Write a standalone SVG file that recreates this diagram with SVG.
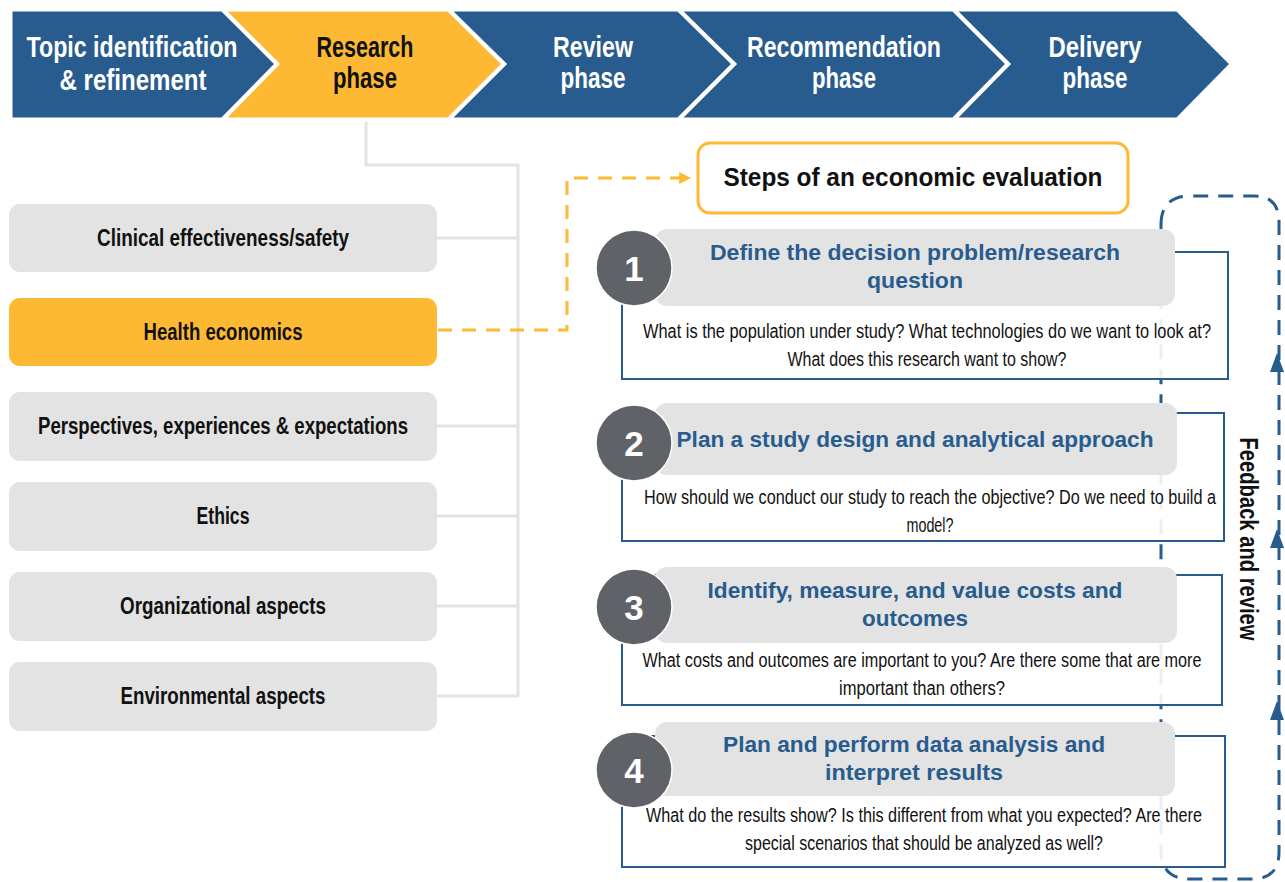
<svg xmlns="http://www.w3.org/2000/svg" width="1285" height="882" viewBox="0 0 1285 882">
  <style>
    .chev { fill: #285c8e; stroke: #ffffff; stroke-width: 3; }
    .chev-on { fill: #fdb933; stroke: #ffffff; stroke-width: 3; }
    .phase { font-family: "Liberation Sans", Arial, sans-serif; font-weight: bold; font-size: 30px; fill: #ffffff; }
    .phase-on { fill: #111111; }
    .topic { fill: #e3e3e3; }
    .topic-on { fill: #fdb933; }
    .topic-txt { font-family: "Liberation Sans", Arial, sans-serif; font-weight: bold; font-size: 23px; fill: #111111; }
    .tree { fill: none; stroke: #e3e3e3; stroke-width: 3; }
    .ylink { fill: none; stroke: #fdb933; stroke-width: 3; stroke-dasharray: 14 10; }
    .loop { fill: none; stroke: #285c8e; stroke-width: 3; stroke-dasharray: 15 10; }
    .frame { fill: #ffffff; fill-opacity: 0.9; stroke: #285c8e; stroke-width: 2; }
    .head { fill: #e3e3e3; }
    .num { fill: #5f6368; stroke: #ffffff; stroke-width: 1.5; }
    .num-txt { font-family: "Liberation Sans", Arial, sans-serif; font-weight: bold; font-size: 35px; fill: #ffffff; }
    .step-title { font-family: "Liberation Sans", Arial, sans-serif; font-weight: bold; font-size: 22px; fill: #285c8e; }
    .step-body { font-family: "Liberation Sans", Arial, sans-serif; font-size: 20px; fill: #111111; }
    .title-txt { font-family: "Liberation Sans", Arial, sans-serif; font-weight: bold; font-size: 25px; fill: #111111; }
    .side-txt { font-family: "Liberation Sans", Arial, sans-serif; font-weight: bold; font-size: 25px; fill: #111111; }
  </style>
  <defs>
    <marker id="ytip" viewBox="0 0 10 10" refX="9" refY="5" markerWidth="4" markerHeight="4" orient="auto" markerUnits="strokeWidth">
      <path d="M0,0 L10,5 L0,10 z" fill="#fdb933"/>
    </marker>
  </defs>

  <!-- process banner -->
  <g id="phase-topic">
    <path class="chev" d="M11,10 L222,10 L276,64 L222,119 L11,119 Z"/>
    <text class="phase" x="132" y="57" text-anchor="middle" textLength="211" lengthAdjust="spacingAndGlyphs">Topic identification</text>
    <text class="phase" x="133" y="90" text-anchor="middle" textLength="147" lengthAdjust="spacingAndGlyphs">&amp; refinement</text>
  </g>
  <g id="phase-research">
    <path class="chev-on" d="M224,10 L448,10 L503,64 L448,119 L224,119 L278,64 Z"/>
    <text class="phase phase-on" x="365" y="57" text-anchor="middle" textLength="97" lengthAdjust="spacingAndGlyphs">Research</text>
    <text class="phase phase-on" x="365" y="88" text-anchor="middle" textLength="64" lengthAdjust="spacingAndGlyphs">phase</text>
  </g>
  <g id="phase-review">
    <path class="chev" d="M450,10 L678,10 L733,64 L678,119 L450,119 L505,64 Z"/>
    <text class="phase" x="593" y="57" text-anchor="middle" textLength="80" lengthAdjust="spacingAndGlyphs">Review</text>
    <text class="phase" x="593" y="88" text-anchor="middle" textLength="65" lengthAdjust="spacingAndGlyphs">phase</text>
  </g>
  <g id="phase-recommendation">
    <path class="chev" d="M680,10 L953,10 L1007,64 L953,119 L680,119 L735,64 Z"/>
    <text class="phase" x="844" y="57" text-anchor="middle" textLength="194" lengthAdjust="spacingAndGlyphs">Recommendation</text>
    <text class="phase" x="844" y="88" text-anchor="middle" textLength="64" lengthAdjust="spacingAndGlyphs">phase</text>
  </g>
  <g id="phase-delivery">
    <path class="chev" d="M955,10 L1177,10 L1231,64 L1177,119 L955,119 L1009,64 Z"/>
    <text class="phase" x="1095" y="57" text-anchor="middle" textLength="93" lengthAdjust="spacingAndGlyphs">Delivery</text>
    <text class="phase" x="1095" y="88" text-anchor="middle" textLength="65" lengthAdjust="spacingAndGlyphs">phase</text>
  </g>

  <!-- connectors -->
  <g id="connectors">
    <path class="tree" d="M366,122 L366,165 L518,165 L518,697"/>
    <path class="tree" d="M437,238 L518,238 M437,426 L518,426 M437,516 L518,516 M437,606 L518,606 M437,696 L518,696"/>
    <path class="ylink" d="M438,330 L567,330 L567,178 L690,178" marker-end="url(#ytip)"/>
    <path class="loop" d="M1161,225 Q1161,196 1190,196 L1254,196 Q1279,196 1279,222 L1279,852 Q1279,879 1252,879 L1190,879 Q1161,879 1161,850 Z"/>
    <path d="M1277,353 L1284,372 L1270,372 Z" fill="#285c8e"/>
    <path d="M1277,529 L1284,548 L1270,548 Z" fill="#285c8e"/>
    <path d="M1277,701 L1284,720 L1270,720 Z" fill="#285c8e"/>
  </g>

  <!-- research topics -->
  <g id="topic-clinical">
    <rect class="topic" x="9" y="204" width="428" height="68" rx="11"/>
    <text class="topic-txt" x="223" y="246" text-anchor="middle" textLength="252" lengthAdjust="spacingAndGlyphs">Clinical effectiveness/safety</text>
  </g>
  <g id="topic-health-economics">
    <rect class="topic-on" x="9" y="298" width="428" height="68" rx="11"/>
    <text class="topic-txt" x="223" y="340" text-anchor="middle" textLength="159" lengthAdjust="spacingAndGlyphs">Health economics</text>
  </g>
  <g id="topic-perspectives">
    <rect class="topic" x="9" y="392" width="428" height="69" rx="11"/>
    <text class="topic-txt" x="223" y="434" text-anchor="middle" textLength="370" lengthAdjust="spacingAndGlyphs">Perspectives, experiences &amp; expectations</text>
  </g>
  <g id="topic-ethics">
    <rect class="topic" x="9" y="482" width="428" height="69" rx="11"/>
    <text class="topic-txt" x="223" y="524" text-anchor="middle" textLength="53" lengthAdjust="spacingAndGlyphs">Ethics</text>
  </g>
  <g id="topic-organizational">
    <rect class="topic" x="9" y="572" width="428" height="69" rx="11"/>
    <text class="topic-txt" x="223" y="614" text-anchor="middle" textLength="206" lengthAdjust="spacingAndGlyphs">Organizational aspects</text>
  </g>
  <g id="topic-environmental">
    <rect class="topic" x="9" y="662" width="428" height="69" rx="11"/>
    <text class="topic-txt" x="223" y="704" text-anchor="middle" textLength="205" lengthAdjust="spacingAndGlyphs">Environmental aspects</text>
  </g>

  <!-- economic evaluation steps -->
  <g id="steps-title">
    <rect x="698" y="143" width="430" height="70" rx="12" fill="#ffffff" stroke="#fdb933" stroke-width="3"/>
    <text class="title-txt" x="913" y="186" text-anchor="middle" textLength="379" lengthAdjust="spacingAndGlyphs">Steps of an economic evaluation</text>
  </g>

  <g id="step-1">
    <rect class="frame" x="622" y="252" width="606" height="127"/>
    <rect class="head" x="655" y="229" width="520" height="77" rx="12"/>
    <circle class="num" cx="634" cy="268" r="38"/>
    <text class="num-txt" x="634" y="281" text-anchor="middle">1</text>
    <text class="step-title" x="915" y="260" text-anchor="middle" textLength="410" lengthAdjust="spacingAndGlyphs">Define the decision problem/research</text>
    <text class="step-title" x="915" y="288" text-anchor="middle" textLength="96" lengthAdjust="spacingAndGlyphs">question</text>
    <text class="step-body" x="927" y="338" text-anchor="middle" textLength="568" lengthAdjust="spacingAndGlyphs">What is the population under study? What technologies do we want to look at?</text>
    <text class="step-body" x="927" y="366" text-anchor="middle" textLength="279" lengthAdjust="spacingAndGlyphs">What does this research want to show?</text>
  </g>

  <g id="step-2">
    <rect class="frame" x="622" y="413" width="602" height="128"/>
    <rect class="head" x="655" y="403" width="522" height="72" rx="12"/>
    <circle class="num" cx="634" cy="443" r="38"/>
    <text class="num-txt" x="634" y="456" text-anchor="middle">2</text>
    <text class="step-title" x="915" y="447" text-anchor="middle" textLength="477" lengthAdjust="spacingAndGlyphs">Plan a study design and analytical approach</text>
    <text class="step-body" x="930" y="504" text-anchor="middle" textLength="572" lengthAdjust="spacingAndGlyphs">How should we conduct our study to reach the objective? Do we need to build a</text>
    <text class="step-body" x="930" y="532" text-anchor="middle" textLength="47" lengthAdjust="spacingAndGlyphs">model?</text>
  </g>

  <g id="step-3">
    <rect class="frame" x="622" y="575" width="600" height="130"/>
    <rect class="head" x="655" y="567" width="522" height="76" rx="12"/>
    <circle class="num" cx="634" cy="607" r="38"/>
    <text class="num-txt" x="634" y="620" text-anchor="middle">3</text>
    <text class="step-title" x="915" y="598" text-anchor="middle" textLength="415" lengthAdjust="spacingAndGlyphs">Identify, measure, and value costs and</text>
    <text class="step-title" x="915" y="626" text-anchor="middle" textLength="106" lengthAdjust="spacingAndGlyphs">outcomes</text>
    <text class="step-body" x="922" y="667" text-anchor="middle" textLength="559" lengthAdjust="spacingAndGlyphs">What costs and outcomes are important to you? Are there some that are more</text>
    <text class="step-body" x="922" y="695" text-anchor="middle" textLength="166" lengthAdjust="spacingAndGlyphs">important than others?</text>
  </g>

  <g id="step-4">
    <rect class="frame" x="622" y="736" width="603" height="131"/>
    <rect class="head" x="655" y="722" width="520" height="74" rx="12"/>
    <circle class="num" cx="634" cy="770" r="38"/>
    <text class="num-txt" x="634" y="783" text-anchor="middle">4</text>
    <text class="step-title" x="914" y="752" text-anchor="middle" textLength="382" lengthAdjust="spacingAndGlyphs">Plan and perform data analysis and</text>
    <text class="step-title" x="914" y="780" text-anchor="middle" textLength="178" lengthAdjust="spacingAndGlyphs">interpret results</text>
    <text class="step-body" x="924" y="822" text-anchor="middle" textLength="556" lengthAdjust="spacingAndGlyphs">What do the results show? Is this different from what you expected? Are there</text>
    <text class="step-body" x="924" y="850" text-anchor="middle" textLength="358" lengthAdjust="spacingAndGlyphs">special scenarios that should be analyzed as well?</text>
  </g>

  <g id="feedback-label">
    <text class="side-txt" transform="translate(1240,539) rotate(90)" text-anchor="middle" textLength="203" lengthAdjust="spacingAndGlyphs">Feedback and review</text>
  </g>
</svg>
